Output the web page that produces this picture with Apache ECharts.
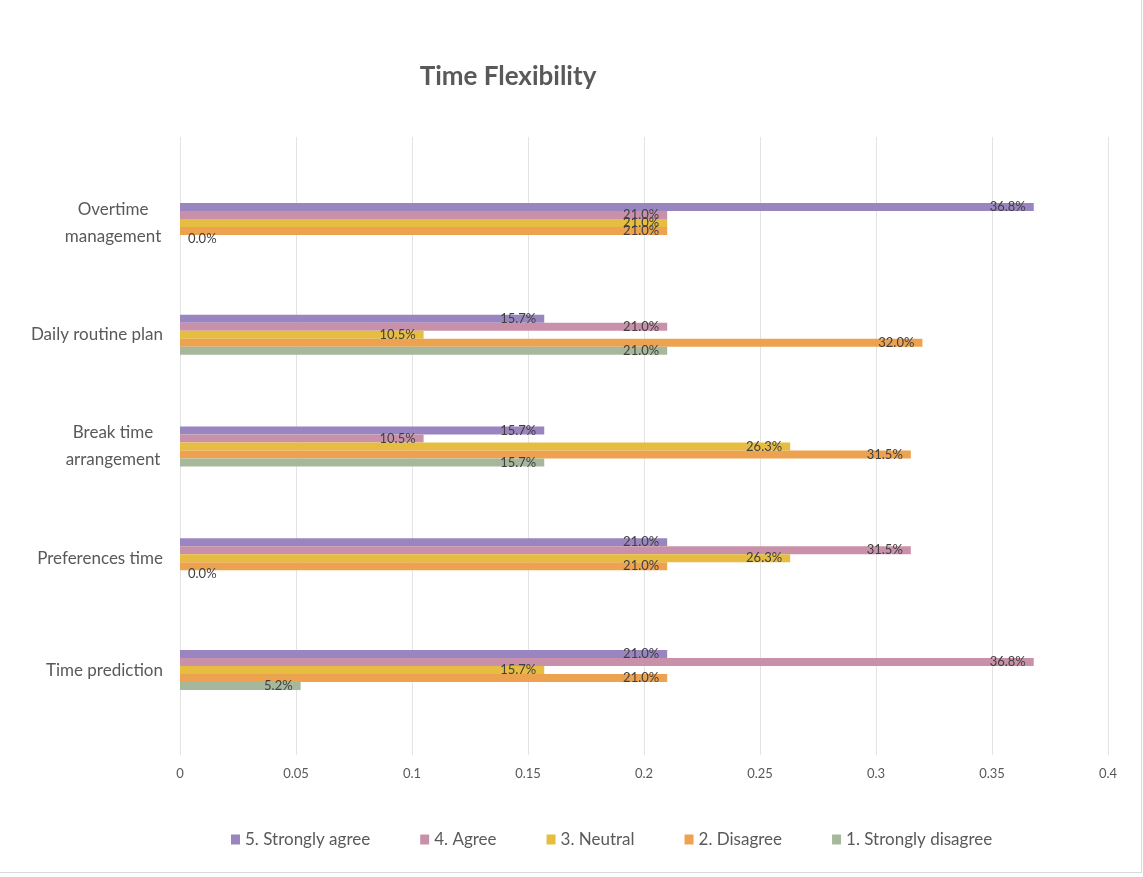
<!DOCTYPE html>
<html><head><meta charset="utf-8">
<script src="https://cdn.jsdelivr.net/npm/echarts@6/dist/echarts.min.js"></script>
<style>html,body{margin:0;padding:0;background:#fff}#c{width:1141px;height:872px;border-right:1px solid #d9d9d9;border-bottom:1px solid #d9d9d9}</style>
</head><body><div id="c"></div>
<script>
// categories bottom-to-top
const categories = ['Time prediction', 'Preferences time', 'Break time\narrangement', 'Daily routine plan', 'Overtime\nmanagement'];
const seriesNames = ['1. Strongly disagree', '2. Disagree', '3. Neutral', '4. Agree', '5. Strongly agree'];
const stronglyDisagree = [0.052, 0.0, 0.157, 0.21, 0.0];
const disagree = [0.21, 0.21, 0.315, 0.32, 0.21];
const neutral = [0.157, 0.263, 0.263, 0.105, 0.21];
const agree = [0.368, 0.315, 0.105, 0.21, 0.21];
const stronglyAgree = [0.21, 0.21, 0.157, 0.157, 0.368];
const xTicks = [0, 0.05, 0.1, 0.15, 0.2, 0.25, 0.3, 0.35, 0.4];

const values = [stronglyDisagree, disagree, neutral, agree, stronglyAgree];
const colors = ['#A6B89B', '#ECA24F', '#E6BD40', '#C991A9', '#9985C0'];
const FONT = 'Lato, "Open Sans", sans-serif';

const chart = echarts.init(document.getElementById('c'), null, {renderer: 'canvas'});
const series = values.map((arr, i) => ({
  name: seriesNames[i],
  type: 'bar',
  xAxisIndex: 0, yAxisIndex: 0,
  barWidth: 8,
  barGap: '0%',
  itemStyle: {color: colors[i]},
  label: {show: true, position: 'insideRight', distance: 8, color: '#404040', fontSize: 13, fontFamily: FONT,
    formatter: p => (p.value * 100).toFixed(1) + '%'},
  data: arr.map(v => v === 0 ? {value: v, label: {position: 'right', distance: 8}} : v)
}));
// order so that series 5 appears on top in each group
series.reverse();

chart.setOption({
  animation: false,
  backgroundColor: '#fff',
  title: {text: 'Time Flexibility', left: 503, textAlign: 'center', top: 59,
    textStyle: {fontFamily: FONT, fontSize: 26, fontWeight: 'bold', color: '#595959'}},
  legend: {
    data: ['5. Strongly agree', '4. Agree', '3. Neutral', '2. Disagree', '1. Strongly disagree'],
    left: 226, top: 826, itemWidth: 9, itemHeight: 10, itemGap: 50, icon: 'rect',
    textStyle: {fontFamily: FONT, fontSize: 17, color: '#595959'}
  },
  grid: [
    {left: 180, right: 33, top: 167, height: 559},
    {left: 180, right: 33, top: 137, height: 618}
  ],
  xAxis: [
    {gridIndex: 0, type: 'value', min: 0, max: 0.4, interval: 0.05, show: false, splitLine: {show: false}},
    {gridIndex: 1, type: 'value', min: xTicks[0], max: xTicks[xTicks.length - 1], interval: 0.05,
      axisLine: {show: false}, axisTick: {show: false},
      splitLine: {show: true, lineStyle: {color: '#e3e3e3', width: 1}},
      axisLabel: {margin: 12, color: '#595959', fontSize: 13, fontFamily: FONT, formatter: v => String(+v.toFixed(2))}}
  ],
  yAxis: [
    {gridIndex: 0, type: 'category', data: categories,
      axisLine: {show: false}, axisTick: {show: false}, splitLine: {show: false},
      axisLabel: {margin: 17, color: '#595959', fontSize: 17, fontFamily: FONT, lineHeight: 27,
        formatter: v => v.indexOf('\n') >= 0 ? v.split('\n').map(s => '{c|' + s + '}').join('\n') : v,
        rich: {c: {width: 100, align: 'center', fontSize: 17, fontFamily: FONT, color: '#595959', lineHeight: 27}}}},
    {gridIndex: 1, type: 'value', show: false}
  ],
  series: series
});
</script></body></html>
